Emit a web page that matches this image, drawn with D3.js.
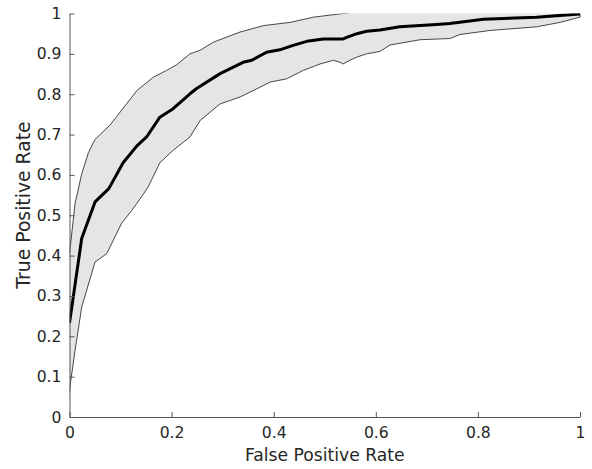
<!DOCTYPE html>
<html>
<head>
<meta charset="utf-8">
<script src="https://cdn.jsdelivr.net/npm/d3@7"></script>
<style>
  html, body { margin: 0; padding: 0; background: #fff; }
  svg { display: block; }
  text { font-family: "DejaVu Sans", sans-serif; fill: #262626; }
</style>
</head>
<body>
<svg id="chart" width="592" height="469"></svg>
<script>
// ---- data ----
const meanFPR = [0, 0.024, 0.05, 0.077, 0.105, 0.132, 0.151, 0.177, 0.203, 0.217, 0.236, 0.249, 0.295, 0.34, 0.357, 0.386, 0.412, 0.438, 0.465, 0.497, 0.536, 0.543, 0.563, 0.582, 0.608, 0.647, 0.719, 0.745, 0.811, 0.915, 1];
const meanTPR = [0.233, 0.443, 0.533, 0.566, 0.63, 0.672, 0.694, 0.743, 0.764, 0.78, 0.801, 0.814, 0.851, 0.879, 0.884, 0.904, 0.91, 0.921, 0.931, 0.937, 0.937, 0.941, 0.95, 0.956, 0.959, 0.967, 0.973, 0.975, 0.986, 0.991, 0.999];

const upperFPR = [0, 0.011, 0.024, 0.037, 0.05, 0.079, 0.132, 0.164, 0.19, 0.21, 0.236, 0.256, 0.282, 0.334, 0.38, 0.432, 0.478, 0.536, 0.6, 0.7, 0.8, 0.9, 1];
const upperTPR = [0.405, 0.53, 0.603, 0.655, 0.688, 0.723, 0.809, 0.842, 0.859, 0.873, 0.9, 0.909, 0.929, 0.954, 0.97, 0.978, 0.991, 1.0, 1.01, 1.015, 1.015, 1.01, 1.0];

const lowerFPR = [0, 0.002, 0.011, 0.024, 0.05, 0.073, 0.102, 0.122, 0.138, 0.154, 0.177, 0.203, 0.236, 0.256, 0.295, 0.334, 0.36, 0.393, 0.425, 0.458, 0.491, 0.517, 0.53, 0.536, 0.549, 0.563, 0.582, 0.608, 0.628, 0.687, 0.745, 0.765, 0.824, 0.915, 0.961, 1];
const lowerTPR = [0.06, 0.085, 0.166, 0.273, 0.384, 0.405, 0.48, 0.512, 0.54, 0.57, 0.63, 0.661, 0.694, 0.735, 0.776, 0.793, 0.809, 0.83, 0.838, 0.859, 0.875, 0.884, 0.879, 0.875, 0.884, 0.892, 0.9, 0.906, 0.922, 0.935, 0.938, 0.948, 0.958, 0.967, 0.978, 0.991];

const xTickValues = [0, 0.2, 0.4, 0.6, 0.8, 1];
const xTickLabels = ["0", "0.2", "0.4", "0.6", "0.8", "1"];
const yTickValues = [0, 0.1, 0.2, 0.3, 0.4, 0.5, 0.6, 0.7, 0.8, 0.9, 1];
const yTickLabels = ["0", "0.1", "0.2", "0.3", "0.4", "0.5", "0.6", "0.7", "0.8", "0.9", "1"];
const xLabel = "False Positive Rate";
const yLabel = "True Positive Rate";

// ---- layout ----
const L = 69.5, R = 580, T = 13.5, B = 417;
const svg = d3.select("#chart");
const x = d3.scaleLinear().domain([0, 1]).range([L, R]);
const y = d3.scaleLinear().domain([0, 1]).range([B, T]);

svg.append("defs").append("clipPath").attr("id", "plotclip")
  .append("rect").attr("x", L).attr("y", T).attr("width", R - L + 2).attr("height", B - T);

const zip = (xs, ys) => xs.map((v, i) => [v, ys[i]]);
const upper = zip(upperFPR, upperTPR);
const lower = zip(lowerFPR, lowerTPR);
const mean = zip(meanFPR, meanTPR);

const line = d3.line().x(d => x(d[0])).y(d => y(d[1]));
const g = svg.append("g").attr("clip-path", "url(#plotclip)");

// band fill
g.append("path")
  .attr("d", line(upper.concat(lower.slice().reverse())) + "Z")
  .attr("fill", "#e5e5e5").attr("stroke", "none");
// band edges
g.append("path").attr("d", line(upper.concat([[1, lowerTPR[lowerTPR.length - 1]]])))
  .attr("fill", "none").attr("stroke", "#1a1a1a").attr("stroke-width", 0.8);
g.append("path").attr("d", line(lower))
  .attr("fill", "none").attr("stroke", "#1a1a1a").attr("stroke-width", 0.8);
// mean
g.append("path").attr("d", line(mean))
  .attr("fill", "none").attr("stroke", "#000").attr("stroke-width", 3)
  .attr("stroke-linejoin", "round");

// axes
const xAxis = d3.axisBottom(x).tickValues(xTickValues)
  .tickFormat((d, i) => xTickLabels[i]).tickSizeInner(-5).tickSizeOuter(0).tickPadding(10);
const yAxis = d3.axisLeft(y).tickValues(yTickValues)
  .tickFormat((d, i) => yTickLabels[i]).tickSizeInner(-5).tickSizeOuter(0).tickPadding(8);

const gx = svg.append("g").attr("transform", `translate(0,${B})`).call(xAxis);
const gy = svg.append("g").attr("transform", `translate(${L},0)`).call(yAxis);
[gx, gy].forEach(a => {
  a.select(".domain").attr("stroke", "#555").attr("stroke-width", 1);
  a.selectAll(".tick line").attr("stroke", "#555");
  a.selectAll(".tick text").attr("font-size", 15.6).attr("font-family", "DejaVu Sans").attr("fill", "#262626");
});

svg.append("text").attr("x", (L + R) / 2).attr("y", 461)
  .attr("text-anchor", "middle").attr("font-size", 17.2).text(xLabel);
svg.append("text").attr("transform", `translate(30,205) rotate(-90)`)
  .attr("text-anchor", "middle").attr("font-size", 18.8).text(yLabel);
</script>
</body>
</html>
